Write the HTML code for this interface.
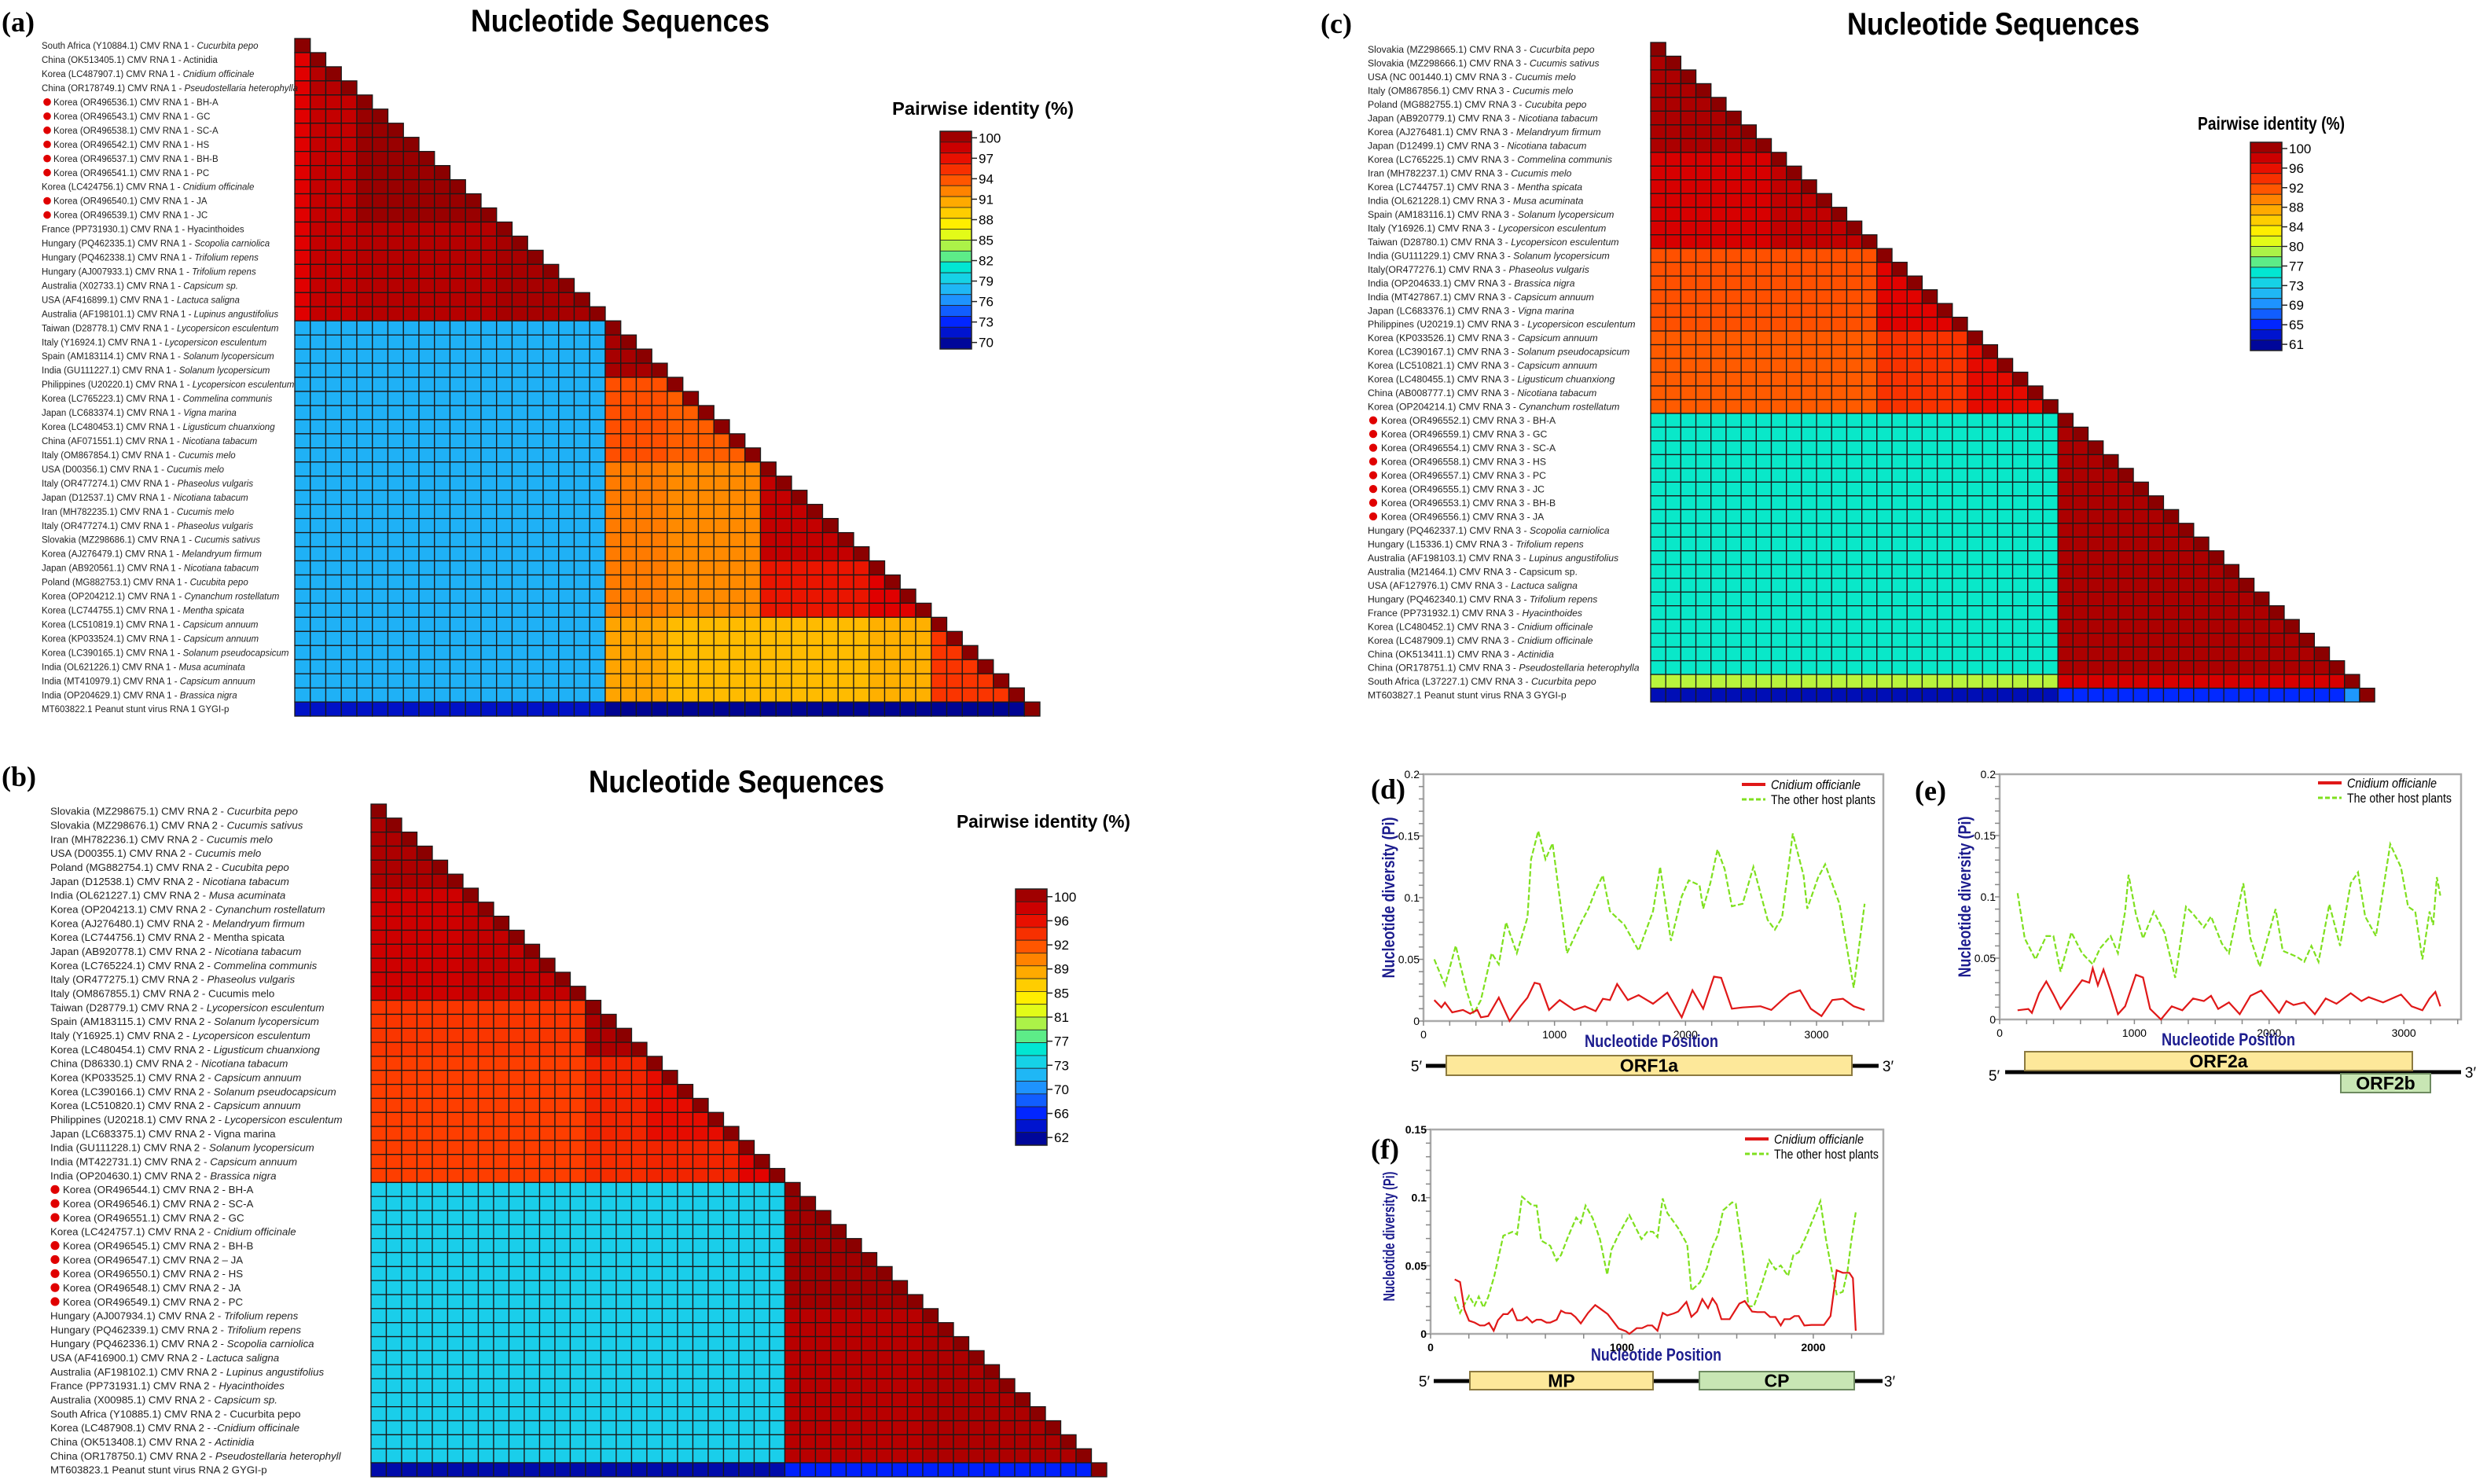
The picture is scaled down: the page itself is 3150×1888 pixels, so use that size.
<!DOCTYPE html>
<html><head><meta charset="utf-8"><title>CMV pairwise identity and nucleotide diversity</title>
<style>
html,body{margin:0;padding:0;background:#fff;}
svg{display:block;font-family:"Liberation Sans",Arial,sans-serif;}
</style></head>
<body>
<svg id="fig" xmlns="http://www.w3.org/2000/svg" width="3150" height="1888" viewBox="0 0 3150 1888">
<rect x="0" y="0" width="3150" height="1888" fill="#fff"/>
<text x="2" y="40" font-family="Liberation Serif,serif" font-weight="bold" font-size="36">(a)</text>
<text x="2" y="1000" font-family="Liberation Serif,serif" font-weight="bold" font-size="36">(b)</text>
<text x="1680" y="42" font-family="Liberation Serif,serif" font-weight="bold" font-size="36">(c)</text>
<text x="1744" y="1016" font-family="Liberation Serif,serif" font-weight="bold" font-size="36">(d)</text>
<text x="2436" y="1018" font-family="Liberation Serif,serif" font-weight="bold" font-size="36">(e)</text>
<text x="1744" y="1474" font-family="Liberation Serif,serif" font-weight="bold" font-size="36">(f)</text>
<text x="599" y="40" font-weight="bold" font-size="40" textLength="380" lengthAdjust="spacingAndGlyphs">Nucleotide Sequences</text>
<text x="749" y="1008" font-weight="bold" font-size="40" textLength="376" lengthAdjust="spacingAndGlyphs">Nucleotide Sequences</text>
<text x="2350" y="44" font-weight="bold" font-size="40" textLength="372" lengthAdjust="spacingAndGlyphs">Nucleotide Sequences</text>
</svg>
<script>
// ---------- DATA ----------
const aLabels=["South Africa (Y10884.1) CMV RNA 1 - |Cucurbita pepo","China (OK513405.1) CMV RNA 1 - Actinidia","Korea (LC487907.1) CMV RNA 1 - |Cnidium officinale","China (OR178749.1) CMV RNA 1 - |Pseudostellaria heterophylla","Korea (OR496536.1) CMV RNA 1 - BH-A","Korea (OR496543.1) CMV RNA 1 - GC","Korea (OR496538.1) CMV RNA 1 - SC-A","Korea (OR496542.1) CMV RNA 1 - HS","Korea (OR496537.1) CMV RNA 1 - BH-B","Korea (OR496541.1) CMV RNA 1 - PC","Korea (LC424756.1) CMV RNA 1 - |Cnidium officinale","Korea (OR496540.1) CMV RNA 1 - JA","Korea (OR496539.1) CMV RNA 1 - JC","France (PP731930.1) CMV RNA 1 - Hyacinthoides","Hungary (PQ462335.1) CMV RNA 1 - |Scopolia carniolica","Hungary (PQ462338.1) CMV RNA 1 - |Trifolium repens","Hungary (AJ007933.1) CMV RNA 1 - |Trifolium repens","Australia (X02733.1) CMV RNA 1 - |Capsicum sp.","USA (AF416899.1) CMV RNA 1 - |Lactuca saligna","Australia (AF198101.1) CMV RNA 1 - |Lupinus angustifolius","Taiwan (D28778.1) CMV RNA 1 - |Lycopersicon esculentum","Italy (Y16924.1) CMV RNA 1 - |Lycopersicon esculentum","Spain (AM183114.1) CMV RNA 1 - |Solanum lycopersicum","India (GU111227.1) CMV RNA 1 - |Solanum lycopersicum","Philippines (U20220.1) CMV RNA 1 - |Lycopersicon esculentum","Korea (LC765223.1) CMV RNA 1 - |Commelina communis","Japan (LC683374.1) CMV RNA 1 - |Vigna marina","Korea (LC480453.1) CMV RNA 1 - |Ligusticum chuanxiong","China (AF071551.1) CMV RNA 1 - |Nicotiana tabacum","Italy (OM867854.1) CMV RNA 1 - |Cucumis melo","USA (D00356.1) CMV RNA 1 - |Cucumis melo","Italy (OR477274.1) CMV RNA 1 - |Phaseolus vulgaris","Japan (D12537.1) CMV RNA 1 - |Nicotiana tabacum","Iran (MH782235.1) CMV RNA 1 - |Cucumis melo","Italy (OR477274.1) CMV RNA 1 - |Phaseolus vulgaris","Slovakia (MZ298686.1) CMV RNA 1 - |Cucumis sativus","Korea (AJ276479.1) CMV RNA 1 - |Melandryum firmum","Japan (AB920561.1) CMV RNA 1 - |Nicotiana tabacum","Poland (MG882753.1) CMV RNA 1 - |Cucubita pepo","Korea (OP204212.1) CMV RNA 1 - |Cynanchum rostellatum","Korea (LC744755.1) CMV RNA 1 - |Mentha spicata","Korea (LC510819.1) CMV RNA 1 - |Capsicum annuum","Korea (KP033524.1) CMV RNA 1 - |Capsicum annuum","Korea (LC390165.1) CMV RNA 1 - |Solanum pseudocapsicum","India (OL621226.1) CMV RNA 1 - |Musa acuminata","India (MT410979.1) CMV RNA 1 - |Capsicum annuum","India (OP204629.1) CMV RNA 1 - |Brassica nigra","MT603822.1 Peanut stunt virus RNA 1 GYGI-p"];
const aDots=[4,5,6,7,8,9,11,12];
const aGroupStarts=[0,1,4,13,20,24,30,37,41,47];
const aBlocks=[
[100],
[97,98.5],
[97,98,99.5],
[97,98,98.5,99],
[78,78,78,78,99],
[78,78,78,78,93.5,93],
[78,78,78,78,92,91.5,98],
[78,78,78,78,92,91.5,96,97],
[78,78,78,78,90.5,89.5,89.5,90,94.5],
[72,72,72,72,70.5,70.5,70.5,70.5,70.5,100]];
const aTicks=[100,97,94,91,88,85,82,79,76,73,70];

const bLabels=["Slovakia (MZ298675.1) CMV RNA 2 - |Cucurbita pepo","Slovakia (MZ298676.1) CMV RNA 2 - |Cucumis sativus","Iran (MH782236.1) CMV RNA 2 - |Cucumis melo","USA (D00355.1) CMV RNA 2 - |Cucumis melo","Poland (MG882754.1) CMV RNA 2 - |Cucubita pepo","Japan (D12538.1) CMV RNA 2 - |Nicotiana tabacum","India (OL621227.1) CMV RNA 2 - |Musa acuminata","Korea (OP204213.1) CMV RNA 2 - |Cynanchum rostellatum","Korea (AJ276480.1) CMV RNA 2 - |Melandryum firmum","Korea (LC744756.1) CMV RNA 2 - Mentha spicata","Japan (AB920778.1) CMV RNA 2 - |Nicotiana tabacum","Korea (LC765224.1) CMV RNA 2 - |Commelina communis","Italy (OR477275.1) CMV RNA 2 - |Phaseolus vulgaris","Italy (OM867855.1) CMV RNA 2 - Cucumis melo","Taiwan (D28779.1) CMV RNA 2 - |Lycopersicon esculentum","Spain (AM183115.1) CMV RNA 2 - |Solanum lycopersicum","Italy (Y16925.1) CMV RNA 2 - |Lycopersicon esculentum","Korea (LC480454.1) CMV RNA 2 - |Ligusticum chuanxiong","China (D86330.1) CMV RNA 2 - |Nicotiana tabacum","Korea (KP033525.1) CMV RNA 2 - |Capsicum annuum","Korea (LC390166.1) CMV RNA 2 - |Solanum pseudocapsicum","Korea (LC510820.1) CMV RNA 2 - |Capsicum annuum","Philippines (U20218.1) CMV RNA 2 - |Lycopersicon esculentum","Japan (LC683375.1) CMV RNA 2 - Vigna marina","India (GU111228.1) CMV RNA 2 - |Solanum lycopersicum","India (MT422731.1) CMV RNA 2 - |Capsicum annuum","India (OP204630.1) CMV RNA 2 - |Brassica nigra","Korea (OR496544.1) CMV RNA 2 - BH-A","Korea (OR496546.1) CMV RNA 2 - SC-A","Korea (OR496551.1) CMV RNA 2 - GC","Korea (LC424757.1) CMV RNA 2 - |Cnidium officinale","Korea (OR496545.1) CMV RNA 2 - BH-B","Korea (OR496547.1) CMV RNA 2 – JA","Korea (OR496550.1) CMV RNA 2 - HS","Korea (OR496548.1) CMV RNA 2 - JA","Korea (OR496549.1) CMV RNA 2 - PC","Hungary (AJ007934.1) CMV RNA 2 - |Trifolium repens","Hungary (PQ462339.1) CMV RNA 2 - |Trifolium repens","Hungary (PQ462336.1) CMV RNA 2 - |Scopolia carniolica","USA (AF416900.1) CMV RNA 2 - |Lactuca saligna","Australia (AF198102.1) CMV RNA 2 - |Lupinus angustifolius","France (PP731931.1) CMV RNA 2 - |Hyacinthoides","Australia (X00985.1) CMV RNA 2 - |Capsicum sp.","South Africa (Y10885.1) CMV RNA 2 - Cucurbita pepo","Korea (LC487908.1) CMV RNA 2 - -|Cnidium officinale","China (OK513408.1) CMV RNA 2 - |Actinidia","China (OR178750.1) CMV RNA 2 - |Pseudostellaria heterophyll","MT603823.1 Peanut stunt virus RNA 2 GYGI-p"];
const bDots=[27,28,29,31,32,33,34,35];
const bGroupStarts=[0,6,14,18,24,27,36,47];
const bBlocks=[
[98.5],
[97,97.5],
[93,93,98.5],
[92.5,92.5,94,95.5],
[92.5,92.5,93.5,94,96],
[74,74,74,74,74,99],
[74,74,74,74,74,98,98.5],
[63.5,63.5,63.5,63.5,63.5,66.5,66.5,100]];
const bTicks=[100,96,92,89,85,81,77,73,70,66,62];

const cLabels=["Slovakia (MZ298665.1) CMV RNA 3 - |Cucurbita pepo","Slovakia (MZ298666.1) CMV RNA 3 - |Cucumis sativus","USA (NC 001440.1) CMV RNA 3 - |Cucumis melo","Italy (OM867856.1) CMV RNA 3 - |Cucumis melo","Poland (MG882755.1) CMV RNA 3 - |Cucubita pepo","Japan (AB920779.1) CMV RNA 3 - |Nicotiana tabacum","Korea (AJ276481.1) CMV RNA 3 - |Melandryum firmum","Japan (D12499.1) CMV RNA 3 - |Nicotiana tabacum","Korea (LC765225.1) CMV RNA 3 - |Commelina communis","Iran (MH782237.1) CMV RNA 3 - |Cucumis melo","Korea (LC744757.1) CMV RNA 3 - |Mentha spicata","India (OL621228.1) CMV RNA 3 - |Musa acuminata","Spain (AM183116.1) CMV RNA 3 - |Solanum lycopersicum","Italy (Y16926.1) CMV RNA 3 - |Lycopersicon esculentum","Taiwan (D28780.1) CMV RNA 3 - |Lycopersicon esculentum","India (GU111229.1) CMV RNA 3 - |Solanum lycopersicum","Italy(OR477276.1) CMV RNA 3 - |Phaseolus vulgaris","India (OP204633.1) CMV RNA 3 - |Brassica nigra","India (MT427867.1) CMV RNA 3 - |Capsicum annuum","Japan (LC683376.1) CMV RNA 3 - |Vigna marina","Philippines (U20219.1) CMV RNA 3 - |Lycopersicon esculentum","Korea (KP033526.1) CMV RNA 3 - |Capsicum annuum","Korea (LC390167.1) CMV RNA 3 - |Solanum pseudocapsicum","Korea (LC510821.1) CMV RNA 3 - |Capsicum annuum","Korea (LC480455.1) CMV RNA 3 - |Ligusticum chuanxiong","China (AB008777.1) CMV RNA 3 - |Nicotiana tabacum","Korea (OP204214.1) CMV RNA 3 - |Cynanchum rostellatum","Korea (OR496552.1) CMV RNA 3 - BH-A","Korea (OR496559.1) CMV RNA 3 - GC","Korea (OR496554.1) CMV RNA 3 - SC-A","Korea (OR496558.1) CMV RNA 3 - HS","Korea (OR496557.1) CMV RNA 3 - PC","Korea (OR496555.1) CMV RNA 3 - JC","Korea (OR496553.1) CMV RNA 3 - BH-B","Korea (OR496556.1) CMV RNA 3 - JA","Hungary (PQ462337.1) CMV RNA 3 - |Scopolia carniolica","Hungary (L15336.1) CMV RNA 3 - |Trifolium repens","Australia (AF198103.1) CMV RNA 3 - |Lupinus angustifolius","Australia (M21464.1) CMV RNA 3 - Capsicum sp.","USA (AF127976.1) CMV RNA 3 - |Lactuca saligna","Hungary (PQ462340.1) CMV RNA 3 - |Trifolium repens","France (PP731932.1) CMV RNA 3 - |Hyacinthoides","Korea (LC480452.1) CMV RNA 3 - |Cnidium officinale","Korea (LC487909.1) CMV RNA 3 - |Cnidium officinale","China (OK513411.1) CMV RNA 3 - |Actinidia","China (OR178751.1) CMV RNA 3 - |Pseudostellaria heterophylla","South Africa (L37227.1) CMV RNA 3 - |Cucurbita pepo","MT603827.1 Peanut stunt virus RNA 3 GYGI-p"];
const cDots=[27,28,29,30,31,32,33,34];
const cGroupStarts=[0,8,15,21,27,46,47];
const cBlocks=[
[98.5],
[96.5,97.5],
[91.5,91.5,96],
[91,91,93,95.5],
[76,76,76,76,98.5],
[80,80,80,80,96.5,100],
[63,63,63,63,66,70,100]];
const cTicks=[100,96,92,88,84,80,77,73,69,65,61];

// line chart data (nucleotide position, Pi)
const dRedX=[82,137,164,219,301,356,411,438,493,575,657,739,794,848,887,958,1040,1150,1232,1314,1369,1423,1478,1560,1642,1752,1861,1971,2053,2135,2217,2272,2354,2436,2573,2655,2737,2792,2874,2956,3038,3120,3202,3284,3367];
const dRedY=[.017,.011,.015,.007,.009,.006,.009,.003,.004,.019,0,.012,.019,.031,.030,.009,.017,.009,.012,.008,.018,.017,.030,.017,.021,.014,.023,.003,.025,.010,.036,.035,.010,.011,.012,.009,.017,.022,.025,.010,.004,.017,.018,.012,.009];
const dGreenX=[82,164,246,328,383,438,520,575,630,712,794,821,876,931,985,1095,1204,1259,1314,1369,1423,1533,1642,1752,1806,1889,1971,2025,2107,2135,2190,2244,2299,2354,2436,2518,2627,2682,2737,2819,2901,2929,3011,3066,3175,3284,3367];
const dGreenY=[.050,.029,.061,.025,.006,.017,.055,.046,.080,.055,.084,.131,.154,.131,.144,.055,.080,.091,.106,.118,.089,.078,.057,.089,.125,.065,.101,.114,.110,.091,.112,.139,.123,.093,.095,.125,.082,.074,.084,.152,.118,.091,.116,.127,.095,.027,.095];
const eRedX=[133,213,239,293,346,399,452,532,612,665,691,729,771,824,878,931,1011,1064,1117,1197,1277,1356,1436,1516,1569,1622,1702,1782,1862,1941,2021,2074,2128,2181,2261,2340,2420,2500,2606,2686,2739,2846,2979,3058,3138,3191,3234,3271];
const eRedY=[.0075,.0086,.0054,.0214,.031,.0203,.0086,.0203,.032,.030,.0417,.0278,.0407,.0235,.0043,.0107,.0364,.0342,.0086,0,.0107,.0075,.0171,.015,.0193,.0086,.0139,.0043,.0193,.0235,.0128,.0054,.015,.0118,.0139,.0043,.0171,.0128,.0214,.015,.0182,.0139,.0203,.0107,.0075,.0171,.0225,.0107];
const eGreenX=[133,186,266,346,399,452,532,612,691,745,824,878,931,957,1011,1064,1144,1223,1303,1383,1436,1516,1569,1649,1702,1809,1862,1931,2048,2101,2207,2261,2314,2367,2447,2527,2606,2660,2713,2793,2899,2979,3032,3085,3138,3191,3218,3245,3271];
const eGreenY=[.103,.066,.049,.068,.068,.039,.071,.054,.045,.058,.068,.054,.088,.118,.086,.066,.088,.071,.034,.092,.086,.075,.084,.062,.054,.111,.066,.043,.090,.056,.051,.047,.060,.047,.094,.060,.111,.120,.084,.068,.143,.124,.092,.088,.049,.088,.077,.116,.101];
const fRedX=[126,154,177,201,230,258,282,305,330,352,380,403,427,452,478,503,531,554,578,606,625,659,682,704,734,757,785,823,860,889,926,983,1021,1039,1077,1105,1134,1158,1186,1213,1237,1271,1294,1337,1363,1393,1420,1450,1473,1495,1520,1563,1614,1642,1680,1708,1746,1774,1802,1830,1849,1877,1902,1924,1953,1990,2056,2090,2122,2154,2188,2207,2222];
const fRedY=[.040,.038,.0178,.0097,.0083,.0062,.0062,.0081,.0023,.010,.0145,.0145,.0183,.010,.010,.0124,.0083,.0104,.0104,.0083,.0083,.0104,.017,.0154,.015,.0124,.0077,.0154,.0212,.0183,.0145,.0039,.0019,0,.0042,.0042,.0062,.0062,.0023,.0154,.0135,.015,.0164,.0235,.0125,.0164,.0255,.0189,.026,.0216,.0108,.0108,.0222,.0241,.0164,.016,.016,.0124,.0124,.0062,.0108,.0108,.0131,.0131,.0062,.0066,.0066,.0131,.0467,.0448,.0448,.0409,.0023];
const fGreenX=[126,154,201,230,252,277,301,333,380,427,452,478,531,554,578,625,659,682,719,761,785,810,847,885,923,945,983,1039,1102,1134,1162,1186,1213,1237,1294,1341,1363,1407,1444,1473,1501,1529,1576,1595,1633,1661,1689,1727,1770,1802,1830,1868,1896,1924,1962,2037,2066,2094,2122,2154,2179,2198,2222];
const fGreenY=[.0274,.0154,.028,.0208,.0274,.0193,.027,.0425,.072,.0749,.073,.1007,.0942,.0942,.0685,.0647,.0537,.0579,.0714,.0853,.0814,.0942,.0849,.0695,.0434,.0618,.073,.0872,.0695,.0753,.0749,.071,.0994,.0888,.0776,.0656,.0318,.0376,.0483,.0637,.0724,.0907,.0965,.0955,.0579,.0203,.0203,.0347,.0541,.0473,.0502,.0425,.0579,.0598,.0714,.0975,.0695,.0483,.029,.0309,.0463,.0676,.0892];
const dXTicks=[0,1000,2000,3000];
const dYTicks=[0,0.05,0.1,0.15,0.2];
const fYTicks=[0,0.05,0.1,0.15];
const fXTicks=[0,1000,2000];

// ---------- DRAWING ----------
const NS='http://www.w3.org/2000/svg';
const svg=document.getElementById('fig');
function mk(tag,attrs,parent){const e=document.createElementNS(NS,tag);for(const k in attrs)e.setAttribute(k,attrs[k]);(parent||svg).appendChild(e);return e;}
const STOPS=[[0,[0,0,128]],[0.12,[0,32,255]],[0.22,[30,144,255]],[0.3,[32,200,240]],[0.38,[0,232,208]],[0.45,[144,238,96]],[0.55,[255,255,0]],[0.62,[255,208,0]],[0.7,[255,153,0]],[0.8,[255,64,0]],[0.9,[224,0,0]],[1,[139,0,0]]];
function cmap(t){t=Math.max(0,Math.min(1,t));for(let i=1;i<STOPS.length;i++){if(t<=STOPS[i][0]){const a=STOPS[i-1],b=STOPS[i];const f=(t-a[0])/(b[0]-a[0]);const c=a[1].map((v,k)=>Math.round(v+(b[1][k]-v)*f));return 'rgb('+c.join(',')+')';}}return 'rgb(139,0,0)';}
function groupOf(starts,i){let g=0;for(let k=0;k<starts.length;k++)if(i>=starts[k])g=k;return g;}

function drawHeat(cfg){
  const g=mk('g',{});
  
  
  const n=cfg.labels.length;
  const vmin=cfg.ticks[cfg.ticks.length-1],vmax=cfg.ticks[0];
  for(let i=0;i<n;i++){
    const gi=groupOf(cfg.starts,i);
    for(let j=0;j<=i;j++){
      const gj=groupOf(cfg.starts,j);
      const v=(i===j)?100:cfg.blocks[gi][gj];
      const r=mk('rect',{x:cfg.x0+j*cfg.cw,y:cfg.y0+i*cfg.ch,width:cfg.cw,height:cfg.ch,fill:cmap((v-vmin)/(vmax-vmin)),stroke:'#1a1a1a','stroke-width':1.3},g);
      
      
    }
    const dot=cfg.dots.indexOf(i)>=0;
    if(dot){
      const c=mk('circle',{cx:cfg.dotX,cy:cfg.y0+(i+0.5)*cfg.ch,r:cfg.fs*0.42,fill:'#e00000'});
      
      
    }
    const parts=cfg.labels[i].split('|');
    const t=mk('text',{x:dot?cfg.dotTextX:cfg.labelX,y:cfg.y0+(i+0.5)*cfg.ch+cfg.fs*0.36,'font-size':cfg.fs,fill:'#222'});
    
    
    const s1=mk('tspan',{},t);s1.textContent=parts[0];
    if(parts[1]){const s2=mk('tspan',{'font-style':'italic'},t);s2.textContent=parts[1];}
  }
  const lt=mk('text',{x:cfg.legX,y:cfg.legY,'font-size':23,'font-weight':'bold',textLength:cfg.legW,lengthAdjust:'spacingAndGlyphs'});
  
  
  lt.textContent='Pairwise identity (%)';
  const nb=20,bh=(cfg.cbY1-cfg.cbY0)/nb;
  for(let k=0;k<nb;k++){
    const b=mk('rect',{x:cfg.cbX,y:cfg.cbY0+k*bh,width:cfg.cbW,height:bh,fill:cmap(1-(k+0.5)/nb),stroke:'#222','stroke-width':0.8});
    
    
  }
  const fr=mk('rect',{x:cfg.cbX,y:cfg.cbY0,width:cfg.cbW,height:cfg.cbY1-cfg.cbY0,fill:'none',stroke:'#222','stroke-width':1.5});
  
  
  const H=cfg.cbY1-cfg.cbY0;
  cfg.ticks.forEach((v,k)=>{
    const y=cfg.cbY0+H*(0.03+0.94*k/(cfg.ticks.length-1));
    const tl=mk('line',{x1:cfg.cbX+cfg.cbW,x2:cfg.cbX+cfg.cbW+7,y1:y,y2:y,stroke:'#222','stroke-width':1.5});
    
    
    const tt=mk('text',{x:cfg.cbX+cfg.cbW+9,y:y+6,'font-size':17});
    
    
    tt.textContent=v;
  });
}

drawHeat({name:'rna1',labels:aLabels,dots:aDots,starts:aGroupStarts,blocks:aBlocks,ticks:aTicks,x0:375,y0:49,cw:19.75,ch:17.96,labelX:53,dotX:60,dotTextX:68,fs:11.5,legX:1135,legY:146,legW:231,cbX:1196,cbW:40,cbY0:167,cbY1:444});
drawHeat({name:'rna2',labels:bLabels,dots:bDots,starts:bGroupStarts,blocks:bBlocks,ticks:bTicks,x0:472,y0:1023,cw:19.5,ch:17.83,labelX:64,dotX:70,dotTextX:80,fs:13.3,legX:1217,legY:1053,legW:221,cbX:1292,cbW:40,cbY0:1131,cbY1:1457});
drawHeat({name:'rna3',labels:cLabels,dots:cDots,starts:cGroupStarts,blocks:cBlocks,ticks:cTicks,x0:2100,y0:54,cw:19.19,ch:17.48,labelX:1740,dotX:1747,dotTextX:1757,fs:12.2,legX:2796,legY:165,legW:187,cbX:2863,cbW:40,cbY0:181,cbY1:446});

function drawLine(cfg){
  const g=mk('g',{});
  
  
  const sx=v=>cfg.L+(v/cfg.xmax)*(cfg.R-cfg.L);
  const sy=v=>cfg.B-(v/cfg.ymax)*(cfg.B-cfg.T);
  const fr=mk('rect',{x:cfg.L,y:cfg.T,width:cfg.R-cfg.L,height:cfg.B-cfg.T,fill:'#fff',stroke:'#aaa','stroke-width':2.5},g);
  
  
  for(let v=0;v<=cfg.ymax+1e-9;v+=cfg.yminor){
    const y=sy(v);
    const tk=mk('line',{x1:cfg.L-6,x2:cfg.L,y1:y,y2:y,stroke:'#888','stroke-width':1.5},g);
    
    
  }
  cfg.yticks.forEach(v=>{
    const t=mk('text',{x:cfg.L-5,y:sy(v)+5,'font-size':cfg.tfs,'text-anchor':'end','font-weight':cfg.tfw},g);
    
    
    t.textContent=String(v);
  });
  for(let v=0;v<=cfg.xmax;v+=200){
    const x=sx(v);
    const tk=mk('line',{x1:x,x2:x,y1:cfg.B,y2:cfg.B+6,stroke:'#888','stroke-width':1.5},g);
    
    
  }
  cfg.xticks.forEach(v=>{
    const t=mk('text',{x:sx(v),y:cfg.B+22,'font-size':cfg.tfs,'text-anchor':'middle','font-weight':cfg.tfw},g);
    
    
    t.textContent=String(v);
  });
  const pts=(xs,ys)=>xs.map((x,i)=>sx(x).toFixed(1)+','+sy(ys[i]).toFixed(1)).join(' ');
  const gl=mk('polyline',{points:pts(cfg.gx,cfg.gy),fill:'none',stroke:'#7fe01e','stroke-width':2.2,'stroke-dasharray':'7,3'},g);
  
  
  const rl=mk('polyline',{points:pts(cfg.rx,cfg.ry),fill:'none',stroke:'#e01818','stroke-width':2.2},g);
  
  
  const l1=mk('line',{x1:cfg.lgX,x2:cfg.lgX+30,y1:cfg.lgY,y2:cfg.lgY,stroke:'#e01818','stroke-width':4},g);
  
  
  const t1=mk('text',{x:cfg.lgX+37,y:cfg.lgY+6,'font-size':17,'font-style':'italic',textLength:114,lengthAdjust:'spacingAndGlyphs'},g);
  
  
  t1.textContent='Cnidium officianle';
  const l2=mk('line',{x1:cfg.lgX,x2:cfg.lgX+30,y1:cfg.lgY+19,y2:cfg.lgY+19,stroke:'#7fe01e','stroke-width':3,'stroke-dasharray':'6,3'},g);
  
  
  const t2=mk('text',{x:cfg.lgX+37,y:cfg.lgY+25,'font-size':17,textLength:133,lengthAdjust:'spacingAndGlyphs'},g);
  
  
  t2.textContent='The other host plants';
  const yt=mk('text',{x:0,y:0,transform:'translate('+cfg.ytX+','+((cfg.T+cfg.B)/2+cfg.ytDy)+') rotate(-90)','text-anchor':'middle','font-size':cfg.ytFs,'font-weight':'bold',fill:'#1c1c8e',textLength:cfg.ytW,lengthAdjust:'spacingAndGlyphs'},g);
  
  
  yt.textContent='Nucleotide diversity (Pi)';
  const xt=mk('text',{x:cfg.xtX,y:cfg.xtY,'font-size':22,'font-weight':'bold',fill:'#1c1c8e',textLength:cfg.xtW,lengthAdjust:'spacingAndGlyphs'},g);
  
  
  xt.textContent='Nucleotide Position';
}
drawLine({name:'rna1',L:1811,R:2396,T:985,B:1299,xmax:3510,ymax:0.2,yminor:0.01,yticks:dYTicks,xticks:dXTicks,tfs:14,tfw:'normal',rx:dRedX,ry:dRedY,gx:dGreenX,gy:dGreenY,lgX:2216,lgY:998,ytX:1774,ytDy:0,ytFs:22,ytW:205,xtX:2016,xtY:1332,xtW:170});
drawLine({name:'rna2',L:2544,R:3131,T:985,B:1297,xmax:3425,ymax:0.2,yminor:0.01,yticks:dYTicks,xticks:dXTicks,tfs:14,tfw:'normal',rx:eRedX,ry:eRedY,gx:eGreenX,gy:eGreenY,lgX:2949,lgY:996,ytX:2507,ytDy:0,ytFs:22,ytW:205,xtX:2750,xtY:1330,xtW:170});
drawLine({name:'rna3',L:1820,R:2396,T:1437,B:1697,xmax:2366,ymax:0.15,yminor:0.01,yticks:fYTicks,xticks:fXTicks,tfs:14,tfw:'bold',rx:fRedX,ry:fRedY,gx:fGreenX,gy:fGreenY,lgX:2220,lgY:1449,ytX:1774,ytDy:6,ytFs:20,ytW:165,xtX:2024,xtY:1731,xtW:166});

function genomeBox(name,x1,x2,y1,y2,fill,stroke,label){
  const r=mk('rect',{x:x1,y:y1,width:x2-x1,height:y2-y1,fill:fill,stroke:stroke,'stroke-width':2});
  
  
  const t=mk('text',{x:(x1+x2)/2,y:(y1+y2)/2+8,'text-anchor':'middle','font-size':23,'font-weight':'bold'});
  
  
  t.textContent=label;
}
function genomeLine(name,x1,x2,y){
  const l=mk('line',{x1:x1,x2:x2,y1:y,y2:y,stroke:'#000','stroke-width':5});
  
  
}
function endLabel(name,x,y,txt){
  const t=mk('text',{x:x,y:y+7,'font-size':19,'text-anchor':'middle'});
  
  
  t.textContent=txt;
}
genomeLine('rna1-genome-line',1814,2390,1356);
genomeBox('orf1a',1840,2356,1343,1368,'#fde89a','#8c7a40','ORF1a');
endLabel('rna1-5prime',1802,1356,'5′');endLabel('rna1-3prime',2402,1356,'3′');
genomeLine('rna2-genome-line',2551,3131,1364);
genomeBox('orf2a',2576,3069,1338,1362,'#fde89a','#8c7a40','ORF2a');
genomeBox('orf2b',2978,3092,1366,1390,'#c8e6b4','#6d8a60','ORF2b');
endLabel('rna2-5prime',2537,1368,'5′');endLabel('rna2-3prime',3143,1364,'3′');
genomeLine('rna3-genome-line',1824,2395,1757);
genomeBox('mp',1870,2103,1745,1768,'#fde89a','#8c7a40','MP');
genomeBox('cp',2162,2359,1745,1768,'#c8e6b4','#6d8a60','CP');
endLabel('rna3-5prime',1812,1757,'5′');endLabel('rna3-3prime',2404,1757,'3′');
</script>
</body></html>
